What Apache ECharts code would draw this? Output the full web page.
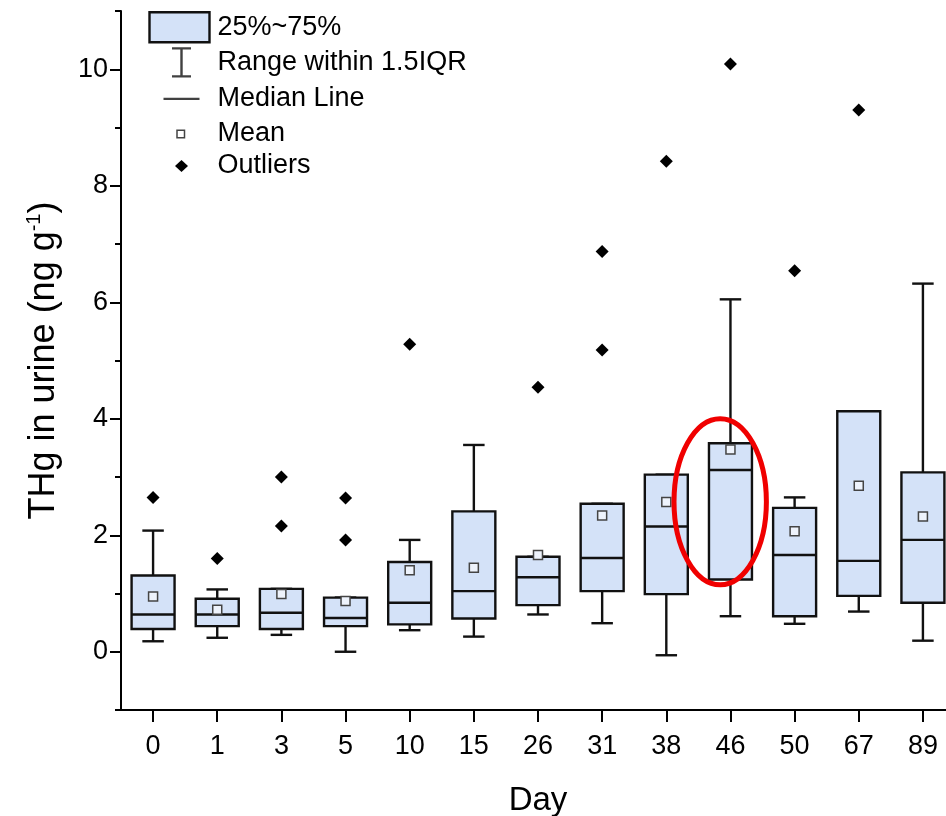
<!DOCTYPE html>
<html>
<head>
<meta charset="utf-8">
<script src="https://cdn.jsdelivr.net/npm/echarts@6/dist/echarts.min.js"></script>
<style>
html, body { margin: 0; padding: 0; background: #fff; }
#chart { width: 946px; height: 816px; }
</style>
</head>
<body>
<div id="chart"></div>
<script>
// values (ng/g)
const days = ['0', '1', '3', '5', '10', '15', '26', '31', '38', '46', '50', '67', '89'];
const whiskerLow = [0.18, 0.24, 0.29, 0.00, 0.37, 0.26, 0.64, 0.49, -0.06, 0.61, 0.48, 0.69, 0.19];
const q1 = [0.39, 0.44, 0.39, 0.44, 0.47, 0.57, 0.80, 1.04, 0.99, 1.24, 0.61, 0.96, 0.84];
const median = [0.64, 0.64, 0.67, 0.58, 0.84, 1.04, 1.28, 1.61, 2.15, 3.12, 1.66, 1.56, 1.92];
const q3 = [1.31, 0.91, 1.08, 0.93, 1.54, 2.41, 1.63, 2.54, 3.04, 3.58, 2.47, 4.13, 3.08];
const whiskerHigh = [2.08, 1.07, 1.08, 0.93, 1.92, 3.55, 1.63, 2.54, 3.04, 6.05, 2.65, 4.13, 6.32];
const mean = [0.95, 0.72, 0.99, 0.87, 1.40, 1.44, 1.66, 2.34, 2.57, 3.47, 2.07, 2.85, 2.32];
const outlierDays = ['0', '1', '3', '3', '5', '5', '10', '26', '31', '31', '38', '46', '50', '67'];
const outlierValues = [2.65, 1.60, 3.00, 2.16, 2.64, 1.92, 5.28, 4.54, 6.87, 5.18, 8.42, 10.09, 6.54, 9.30];
const highlightDay = '46';
const highlightRange = [1.15, 4.0];
const majorTicks = [0, 2, 4, 6, 8, 10];
const minorTicks = [-1, 1, 3, 5, 7, 9, 11];

const boxFill = '#d4e2f8';
const ink = '#000';
const font = 'Liberation Sans, Arial, sans-serif';

// x is drawn on a value axis with one unit per day slot, so ticks sit under the boxes
const slots = days.map((d, i) => i);
const boxData = days.map((d, i) => [i, whiskerLow[i], q1[i], median[i], q3[i], whiskerHigh[i]]);
const meanData = days.map((d, i) => [i, mean[i]]);
const outlierData = outlierDays.map((d, i) => [days.indexOf(d), outlierValues[i]]);

function renderBox(params, api) {
    const i = api.value(0);
    const band = api.size([1, 0])[0];
    const half = band * 0.335;
    const cap = half * 0.5;
    const lo = api.coord([i, api.value(1)]);
    const lowQ = api.coord([i, api.value(2)]);
    const mid = api.coord([i, api.value(3)]);
    const upQ = api.coord([i, api.value(4)]);
    const hi = api.coord([i, api.value(5)]);
    const x = lo[0];
    const ls = { stroke: '#111', lineWidth: 2.4 };
    return {
        type: 'group',
        children: [
            { type: 'line', shape: { x1: x, y1: lo[1], x2: x, y2: hi[1] }, style: ls },
            { type: 'line', shape: { x1: x - cap, y1: lo[1], x2: x + cap, y2: lo[1] }, style: ls },
            { type: 'line', shape: { x1: x - cap, y1: hi[1], x2: x + cap, y2: hi[1] }, style: ls },
            { type: 'rect', shape: { x: x - half, y: upQ[1], width: half * 2, height: lowQ[1] - upQ[1] },
              style: { fill: boxFill, stroke: '#111', lineWidth: 2.4 } },
            { type: 'line', shape: { x1: x - half, y1: mid[1], x2: x + half, y2: mid[1] }, style: ls }
        ]
    };
}

function renderHighlight(params, api) {
    const i = api.value(0);
    const band = api.size([1, 0])[0];
    const bot = api.coord([i, api.value(1)]);
    const top = api.coord([i, api.value(2)]);
    return {
        type: 'ellipse',
        shape: { cx: top[0] - band * 0.16, cy: (top[1] + bot[1]) / 2, rx: band * 0.72, ry: (bot[1] - top[1]) / 2 },
        style: { fill: 'none', stroke: '#f00000', lineWidth: 5 }
    };
}

const chart = echarts.init(document.getElementById('chart'));
chart.setOption({
    animation: false,
    textStyle: { fontFamily: font },
    grid: { left: 121, right: -9, top: 11, bottom: 106, outerBoundsMode: 'none' },
    legend: {
        left: 147,
        top: 11,
        padding: 0,
        orient: 'vertical',
        itemWidth: 60,
        itemHeight: 30,
        itemGap: 1.5,
        selectedMode: false,
        textStyle: { fontSize: 27, lineHeight: 30, color: ink, fontFamily: font, padding: [0, 0, 0, 3] },
        data: [
            { name: '25%~75%', icon: 'rect', itemStyle: { color: boxFill, borderColor: '#111', borderWidth: 2.4 } },
            { name: 'Range within 1.5IQR', icon: 'path://M0,0M60,30M22.5,1L41.5,1M32,1L32,29M22.5,29L41.5,29',
              itemStyle: { color: 'none', borderColor: '#111', borderWidth: 2.4 } },
            { name: 'Median Line', icon: 'path://M0,0M60,30M14,15L50,15',
              itemStyle: { color: 'none', borderColor: '#111', borderWidth: 2.4 } },
            { name: 'Mean', icon: 'path://M0,0M60,30M27.5,11.5L35,11.5L35,19L27.5,19Z',
              itemStyle: { color: '#fff', borderColor: '#444', borderWidth: 1.5 } },
            { name: 'Outliers', icon: 'path://M0,0M60,30M32,9L38.5,15L32,21L25.5,15Z',
              itemStyle: { color: '#000', borderColor: '#000', borderWidth: 0 } }
        ]
    },
    xAxis: {
        type: 'value',
        min: -0.5,
        max: days.length - 0.5,
        name: 'Day',
        nameLocation: 'middle',
        nameGap: 74,
        nameTextStyle: { fontSize: 33, color: ink, fontFamily: font },
        axisLine: { show: true, onZero: false, lineStyle: { color: ink, width: 2 } },
        axisTick: { show: true, length: 12, customValues: slots, lineStyle: { color: ink, width: 2 } },
        axisLabel: { fontSize: 27, color: ink, margin: 23, customValues: slots,
                     formatter: v => days[Math.round(v)] },
        splitLine: { show: false }
    },
    yAxis: [{
        type: 'value',
        min: -1,
        max: 11,
        name: '{t|THg in urine (ng g}{s|-1}{t|)}',
        nameLocation: 'middle',
        nameGap: 57,
        nameTextStyle: {
            rich: {
                t: { fontSize: 36, color: ink, fontFamily: font, lineHeight: 40 },
                s: { fontSize: 20, color: ink, fontFamily: font, verticalAlign: 'top', lineHeight: 40 }
            }
        },
        axisLine: { show: true, onZero: false, lineStyle: { color: ink, width: 2 } },
        axisTick: { show: true, length: 11, customValues: majorTicks, lineStyle: { color: ink, width: 2 } },
        axisLabel: { fontSize: 27, color: ink, margin: 13, customValues: majorTicks },
        splitLine: { show: false }
    }, {
        type: 'value',
        min: -1,
        max: 11,
        position: 'left',
        axisLine: { show: false, onZero: false },
        axisTick: { show: true, length: 6, customValues: minorTicks, lineStyle: { color: ink, width: 2 } },
        axisLabel: { show: false },
        splitLine: { show: false }
    }],
    series: [
        {
            name: '25%~75%',
            type: 'custom',
            renderItem: renderBox,
            encode: { x: 0, y: [1, 2, 3, 4, 5] },
            data: boxData,
            z: 2
        },
        { name: 'Range within 1.5IQR', type: 'scatter', data: [] },
        { name: 'Median Line', type: 'scatter', data: [] },
        {
            name: 'Mean',
            type: 'scatter',
            data: meanData,
            symbol: 'rect',
            symbolSize: 9,
            itemStyle: { color: '#eef3fc', borderColor: '#444', borderWidth: 1.5, opacity: 1 },
            z: 3
        },
        {
            name: 'Outliers',
            type: 'scatter',
            data: outlierData,
            symbol: 'diamond',
            symbolSize: [13, 13],
            itemStyle: { color: '#000', opacity: 1 },
            z: 3
        },
        {
            type: 'custom',
            renderItem: renderHighlight,
            encode: { x: 0, y: [1, 2] },
            data: [[days.indexOf(highlightDay), highlightRange[0], highlightRange[1]]],
            silent: true,
            z: 4
        }
    ]
});
</script>
</body>
</html>
